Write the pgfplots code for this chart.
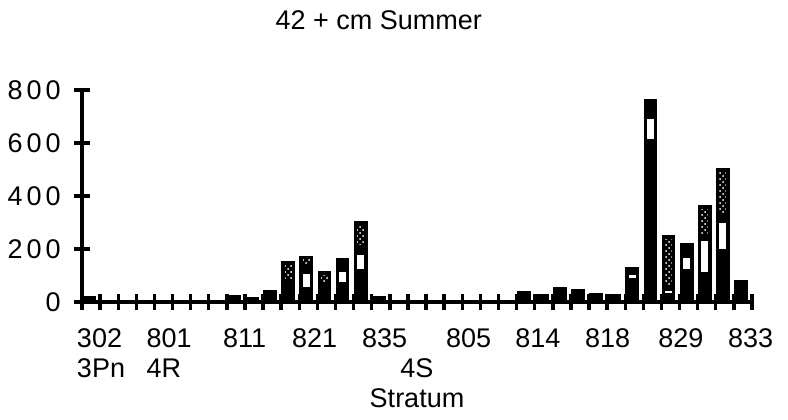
\documentclass[border=0pt]{standalone}
\usepackage{fontspec}
\setmainfont{Liberation Sans}
\usepackage{pgfplots}
\pgfplotsset{compat=1.18}
\usetikzlibrary{patterns}

% tick numbers of the y axis are set with wide letter spacing
\newcommand{\ysp}[3]{#1\kern2pt#2\kern2pt#3}

\begin{document}
\begin{tikzpicture}
\begin{axis}[
    at={(0,0)}, anchor=south west,
    scale only axis,
    width=335pt, height=106pt,
    xmin=0, xmax=37, ymin=0, ymax=800,
    axis lines=left,
    axis line style={-, line width=1.7pt},
    font=\fontsize{13.5}{15}\selectfont,
    xtick={0,...,37}, xticklabels={,,},
    ytick={0,200,400,600,800},
    yticklabels={0,\ysp 200,\ysp 400,\ysp 600,\ysp 800},
    tick align=center,
    major tick length=8pt,
    tick style={line width=1.7pt, black},
    yticklabel style={anchor=east, inner sep=0pt, xshift=-6.5pt},
    extra x ticks={1.05,4.81,8.98,12.85,16.71,21.35,25.17,29.03,33.07,36.93},
    extra x tick labels={{302\\3Pn},{801\\4R},811,821,835,805,814,818,829,833},
    extra x tick style={major tick length=0pt,
        xticklabel style={align=left, anchor=north, inner sep=0pt, yshift=-13pt}},
    title={42 + cm Summer},
    title style={at={(0.443,1)}, anchor=base, yshift=24.5pt, inner sep=0pt},
    xlabel={4S\\Stratum},
    xlabel style={at={(0.5,0)}, anchor=north, align=center, inner sep=0pt, yshift=-28pt},
    ybar stacked, bar width=5.2pt, bar shift=-1pt,
    every axis plot/.append style={draw=black, line width=1.7pt},
]

% black base segment
\addplot[fill=black] coordinates {
    (0.5,15) (8.5,20) (9.5,12) (10.5,38) (11.5,67) (12.5,50) (13.5,43)
    (14.5,69) (15.5,120) (16.5,15) (24.5,35) (25.5,25) (26.5,52) (27.5,42)
    (28.5,28) (29.5,25) (30.5,84) (31.5,609) (32.5,29) (33.5,117)
    (34.5,105) (35.5,193) (36.5,78)
};
% white segment
\addplot[fill=white] coordinates {
    (0.5,0) (8.5,0) (9.5,0) (10.5,0) (11.5,11) (12.5,63) (13.5,11)
    (14.5,52) (15.5,62) (16.5,0) (24.5,0) (25.5,0) (26.5,0) (27.5,0)
    (28.5,0) (29.5,0) (30.5,26) (31.5,87) (32.5,18) (33.5,56)
    (34.5,131) (35.5,112) (36.5,0)
};
% dark segment
\addplot[fill=black] coordinates {
    (0.5,0) (8.5,0) (9.5,0) (10.5,0) (11.5,0) (12.5,20) (13.5,10)
    (14.5,39) (15.5,26) (16.5,0) (24.5,0) (25.5,0) (26.5,0) (27.5,0)
    (28.5,0) (29.5,0) (30.5,16) (31.5,64) (32.5,10) (33.5,44)
    (34.5,10) (35.5,20) (36.5,0)
};
% dotted segment
\addplot[fill=black, postaction={pattern=crosshatch dots, pattern color=white}] coordinates {
    (0.5,0) (8.5,0) (9.5,0) (10.5,0) (11.5,72) (12.5,35) (13.5,46)
    (14.5,0) (15.5,90) (16.5,0) (24.5,0) (25.5,0) (26.5,0) (27.5,0)
    (28.5,0) (29.5,0) (30.5,0) (31.5,0) (32.5,189) (33.5,0)
    (34.5,113) (35.5,175) (36.5,0)
};

\end{axis}
\path[use as bounding box] (-41pt,-58.5pt) rectangle (353pt,151pt);
\end{tikzpicture}
\end{document}
